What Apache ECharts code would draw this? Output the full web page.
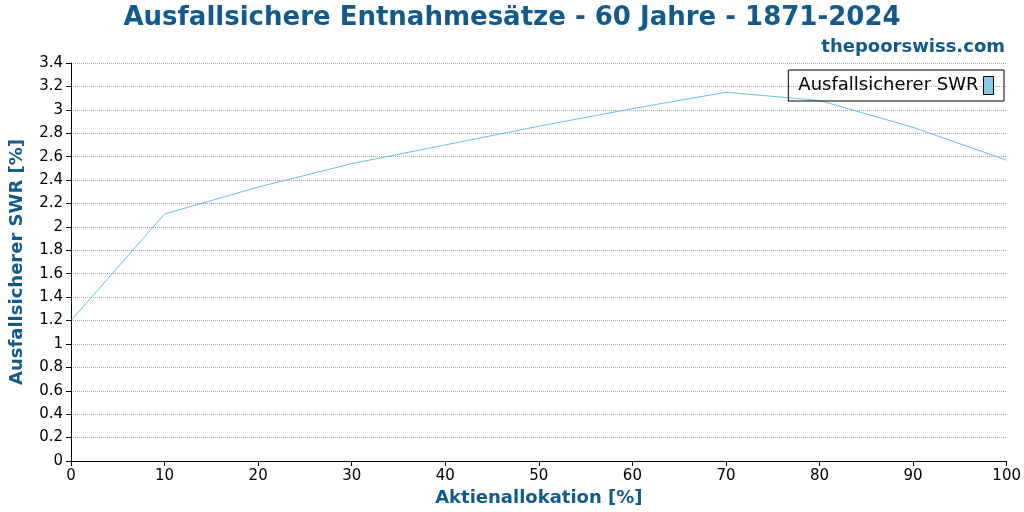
<!DOCTYPE html>
<html><head><meta charset="utf-8">
<script src="https://cdn.jsdelivr.net/npm/echarts@6/dist/echarts.min.js"></script>
<style>html,body{margin:0;padding:0;background:#fff}#c{width:1024px;height:512px}</style>
</head><body><div id="c"></div>
<script>
const categories = [0,10,20,30,40,50,60,70,80,90,100];
const swrValues = [1.2,2.11,2.34,2.54,2.70,2.86,3.01,3.15,3.08,2.85,2.57];
const yTicks = {min:0,max:3.4,interval:0.2};
const blue = '#135a8a';
const ch = echarts.init(document.getElementById('c'));
ch.setOption({
  animation:false,
  textStyle:{fontFamily:'DejaVu Sans'},
  title:[{text:'Ausfallsichere Entnahmesätze - 60 Jahre - 1871-2024',left:'center',top:0,
    textStyle:{fontFamily:'DejaVu Sans',fontSize:26,fontWeight:'bold',color:blue}},
    {text:'thepoorswiss.com',right:14,top:33,textStyle:{fontFamily:'DejaVu Sans',fontSize:18,fontWeight:'bold',color:blue}}],
  legend:{right:20,top:70,orient:'vertical',align:'right',borderColor:'#000',borderWidth:1,borderRadius:0,padding:[6,10],
    itemWidth:10,itemHeight:18,icon:'rect',textStyle:{fontSize:18,color:'#000'},
    data:[{name:'Ausfallsicherer SWR',itemStyle:{color:'#87c9e3',borderColor:'#000',borderWidth:1}}]},
  grid:{left:63,right:15,top:63,bottom:51},
  xAxis:{type:'value',min:0,max:100,interval:10,name:'Aktienallokation [%]',nameLocation:'middle',nameGap:28,
    nameTextStyle:{fontSize:18,fontWeight:'bold',color:blue},
    axisLine:{lineStyle:{color:'#000'}},axisTick:{lineStyle:{color:'#000'}},axisLabel:{color:'#000',fontSize:15},splitLine:{show:false}},
  yAxis:{type:'value',min:yTicks.min,max:yTicks.max,interval:yTicks.interval,name:'Ausfallsicherer SWR [%]',nameLocation:'middle',nameGap:45,
    nameTextStyle:{fontSize:18,fontWeight:'bold',color:blue},
    axisLine:{show:true,lineStyle:{color:'#000'}},axisTick:{show:true,lineStyle:{color:'#000'}},
    axisLabel:{color:'#000',fontSize:15,formatter:v=>String(+v.toFixed(1))},
    splitLine:{lineStyle:{type:'dotted',color:'#aaa'}}},
  series:[{name:'Ausfallsicherer SWR',type:'line',data:categories.map((c,i)=>[c,swrValues[i]]),
    showSymbol:false,lineStyle:{color:'#3fb0dc',width:0.8},itemStyle:{color:'#87c9e3'}}]
});
</script></body></html>
